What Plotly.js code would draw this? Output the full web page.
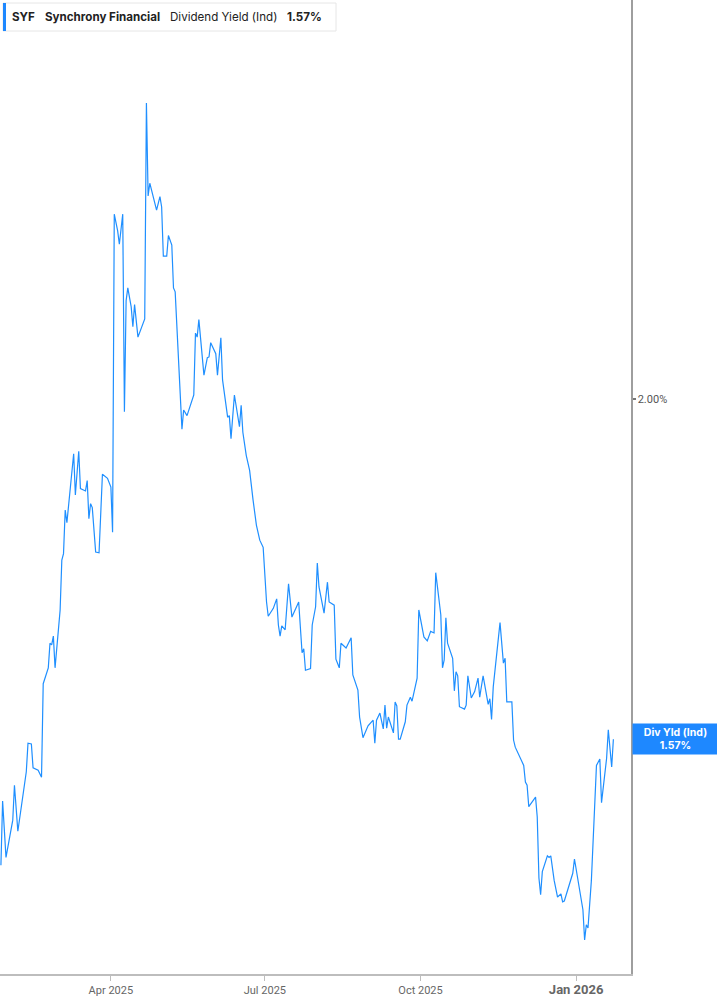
<!DOCTYPE html>
<html>
<head>
<meta charset="utf-8">
<script src="https://cdn.plot.ly/plotly-3.0.1.min.js"></script>
<style>
  html, body { margin: 0; padding: 0; background: #ffffff; }
  #chart { width: 717px; height: 1005px; }
</style>
</head>
<body>
<div id="chart"></div>
<script>
const ticker = "SYF";
const companyName = "Synchrony Financial";
const metricName = "Dividend Yield (Ind)";
const shortMetric = "Div Yld (Ind)";

const dates = [
  "2025-01-26","2025-01-27","2025-01-29","2025-02-02","2025-02-03","2025-02-05","2025-02-10","2025-02-11","2025-02-13","2025-02-14",
  "2025-02-17","2025-02-19","2025-02-20","2025-02-23","2025-02-24","2025-02-25","2025-02-26","2025-02-27","2025-03-02","2025-03-03",
  "2025-03-04","2025-03-05","2025-03-06","2025-03-09","2025-03-10","2025-03-11","2025-03-13","2025-03-14","2025-03-17","2025-03-18",
  "2025-03-19","2025-03-20","2025-03-21","2025-03-23","2025-03-25","2025-03-27","2025-03-30","2025-04-01","2025-04-02","2025-04-03",
  "2025-04-05","2025-04-06","2025-04-08","2025-04-09","2025-04-10","2025-04-11","2025-04-13","2025-04-14","2025-04-15","2025-04-17",
  "2025-04-21","2025-04-22","2025-04-23","2025-04-24","2025-04-27","2025-04-28","2025-04-30","2025-05-01","2025-05-02","2025-05-04",
  "2025-05-05","2025-05-07","2025-05-08","2025-05-09","2025-05-13","2025-05-14","2025-05-16","2025-05-20","2025-05-21","2025-05-22",
  "2025-05-23","2025-05-26","2025-05-28","2025-05-29","2025-05-30","2025-06-02","2025-06-03","2025-06-05","2025-06-06","2025-06-09",
  "2025-06-10","2025-06-11","2025-06-13","2025-06-16","2025-06-17","2025-06-18","2025-06-20","2025-06-22","2025-06-24","2025-06-26",
  "2025-06-28","2025-06-30","2025-07-02","2025-07-03","2025-07-06","2025-07-08","2025-07-09","2025-07-10","2025-07-11","2025-07-13",
  "2025-07-15","2025-07-17","2025-07-21","2025-07-23","2025-07-24","2025-07-25","2025-07-28","2025-07-29","2025-07-31","2025-08-01",
  "2025-08-02","2025-08-05","2025-08-07","2025-08-08","2025-08-11","2025-08-12","2025-08-14","2025-08-15","2025-08-18","2025-08-21",
  "2025-08-22","2025-08-25","2025-08-26","2025-08-28","2025-08-31","2025-09-03","2025-09-04","2025-09-05","2025-09-07","2025-09-09",
  "2025-09-10","2025-09-11","2025-09-12","2025-09-15","2025-09-16","2025-09-17","2025-09-18","2025-09-19","2025-09-22","2025-09-23",
  "2025-09-25","2025-09-26","2025-09-29","2025-09-30","2025-10-03","2025-10-05","2025-10-07","2025-10-09","2025-10-10","2025-10-13",
  "2025-10-14","2025-10-15","2025-10-16","2025-10-17","2025-10-20","2025-10-21","2025-10-22","2025-10-23","2025-10-24","2025-10-27",
  "2025-10-28","2025-10-29","2025-10-31","2025-11-02","2025-11-04","2025-11-05","2025-11-07","2025-11-10","2025-11-11","2025-11-12",
  "2025-11-13","2025-11-17","2025-11-19","2025-11-20","2025-11-21","2025-11-24","2025-11-25","2025-11-26","2025-12-01","2025-12-02",
  "2025-12-03","2025-12-04","2025-12-08","2025-12-09","2025-12-10","2025-12-11","2025-12-12","2025-12-15","2025-12-16","2025-12-17",
  "2025-12-19","2025-12-21","2025-12-23","2025-12-24","2025-12-25","2025-12-30","2025-12-31","2026-01-05","2026-01-06","2026-01-07",
  "2026-01-08","2026-01-10","2026-01-13","2026-01-15","2026-01-16","2026-01-19","2026-01-20","2026-01-22","2026-01-23"
];

const yields = [
  1.412,1.493,1.422,1.469,1.513,1.455,1.530,1.566,1.565,1.535,
  1.532,1.523,1.641,1.661,1.692,1.690,1.701,1.661,1.734,1.797,
  1.805,1.860,1.844,1.912,1.931,1.879,1.934,1.887,1.884,1.897,
  1.849,1.868,1.863,1.807,1.806,1.905,1.900,1.889,1.832,2.233,
  2.212,2.195,2.233,1.984,2.124,2.140,2.116,2.091,2.119,2.078,
  2.101,2.373,2.256,2.272,2.247,2.238,2.255,2.242,2.180,2.180,
  2.206,2.194,2.140,2.135,1.962,1.986,1.979,2.005,2.083,2.078,
  2.100,2.030,2.052,2.053,2.071,2.057,2.030,2.077,2.024,1.977,
  1.979,1.950,2.005,1.965,1.992,1.958,1.929,1.910,1.873,1.841,
  1.822,1.813,1.744,1.726,1.736,1.748,1.715,1.701,1.714,1.709,
  1.767,1.725,1.744,1.680,1.685,1.658,1.660,1.715,1.738,1.793,
  1.763,1.730,1.769,1.744,1.740,1.672,1.661,1.692,1.686,1.699,
  1.652,1.633,1.599,1.573,1.588,1.595,1.566,1.595,1.604,1.584,
  1.614,1.585,1.599,1.579,1.618,1.613,1.571,1.571,1.593,1.614,
  1.624,1.619,1.648,1.734,1.700,1.695,1.707,1.705,1.781,1.728,
  1.661,1.671,1.724,1.692,1.673,1.632,1.656,1.651,1.612,1.609,
  1.614,1.651,1.623,1.631,1.648,1.624,1.651,1.615,1.622,1.596,
  1.637,1.718,1.667,1.673,1.618,1.618,1.570,1.561,1.538,1.517,
  1.513,1.486,1.498,1.473,1.396,1.375,1.404,1.424,1.422,1.424,
  1.393,1.372,1.376,1.366,1.367,1.402,1.420,1.356,1.318,1.337,
  1.333,1.393,1.538,1.546,1.491,1.547,1.583,1.536,1.571
];

const xTickVals = ["2025-04-01","2025-07-01","2025-10-01","2026-01-01"];
const xTickText = ["Apr 2025","Jul 2025","Oct 2025","<span style=\"font-size:13px\"><b>Jan 2026</b></span>"];
const yTickVals = [2.00];
const yTickText = ["2.00%"];

const lastVal = yields[yields.length - 1];
const lastText = lastVal.toFixed(2) + "%";

const lineColor = "#1f8fff";
const plotW = 631, plotH = 974;
const px = v => v / plotW;
const py = v => 1 - v / plotH;

const trace = {
  x: dates,
  y: yields,
  type: "scatter",
  mode: "lines",
  line: { color: lineColor, width: 1.2 },
  hoverinfo: "skip"
};

const legendFont = { family: "Inter, sans-serif", size: 11.6, color: "#222" };

const layout = {
  width: 717,
  height: 1005,
  margin: { l: 0, r: 86, t: 0, b: 31, pad: 0 },
  paper_bgcolor: "#ffffff",
  plot_bgcolor: "#ffffff",
  showlegend: false,
  font: { family: "Inter, Roboto, sans-serif", color: "#333" },
  xaxis: {
    type: "date",
    range: ["2025-01-25 11:00", "2026-02-02 10:00"],
    showgrid: false,
    zeroline: false,
    showline: true,
    linecolor: "#bdbdbd",
    linewidth: 2,
    ticks: "outside",
    ticklen: 5,
    tickwidth: 1,
    tickcolor: "#bdbdbd",
    tickvals: xTickVals,
    ticktext: xTickText,
    tickfont: { family: "Roboto, sans-serif", size: 11, color: "#666" },
    fixedrange: true
  },
  yaxis: {
    side: "right",
    range: [1.275, 2.503],
    showgrid: false,
    zeroline: false,
    showline: true,
    linecolor: "#9e9e9e",
    linewidth: 1.5,
    ticks: "outside",
    ticklen: 3,
    tickwidth: 2,
    tickcolor: "#777",
    tickvals: yTickVals,
    ticktext: yTickText,
    tickfont: { family: "Roboto, sans-serif", size: 11, color: "#555" },
    fixedrange: true
  },
  shapes: [
    { type: "rect", xref: "paper", yref: "paper",
      x0: px(3), x1: px(336), y0: py(31), y1: py(3),
      line: { color: "#e6e6e6", width: 1 }, fillcolor: "#ffffff", layer: "above" },
    { type: "rect", xref: "paper", yref: "paper",
      x0: px(3), x1: px(6), y0: py(31), y1: py(3),
      line: { width: 0 }, fillcolor: "#1e88ff", layer: "above" }
  ],
  annotations: [
    { xref: "paper", yref: "paper", x: px(10), y: py(17), xanchor: "left", yanchor: "middle",
      text: "<b>" + ticker + "</b>", showarrow: false, font: legendFont },
    { xref: "paper", yref: "paper", x: px(43), y: py(17), xanchor: "left", yanchor: "middle",
      text: "<b>" + companyName + "</b>", showarrow: false, font: legendFont },
    { xref: "paper", yref: "paper", x: px(168), y: py(17), xanchor: "left", yanchor: "middle",
      text: metricName, showarrow: false, font: legendFont },
    { xref: "paper", yref: "paper", x: px(285), y: py(17), xanchor: "left", yanchor: "middle",
      text: "<b>" + lastText + "</b>", showarrow: false, font: legendFont },
    { xref: "paper", yref: "y", x: 1, y: lastVal, xanchor: "left", yanchor: "middle",
      xshift: 1,
      text: "<b>" + shortMetric + "</b><br><b>" + lastText + "</b>", showarrow: false,
      bgcolor: "#1e88ff", borderpad: 0, width: 85, height: 30, align: "center",
      font: { family: "Inter, sans-serif", size: 10.5, color: "#ffffff" } }
  ]
};

Plotly.newPlot("chart", [trace], layout, { displayModeBar: false, staticPlot: true });
</script>
</body>
</html>
